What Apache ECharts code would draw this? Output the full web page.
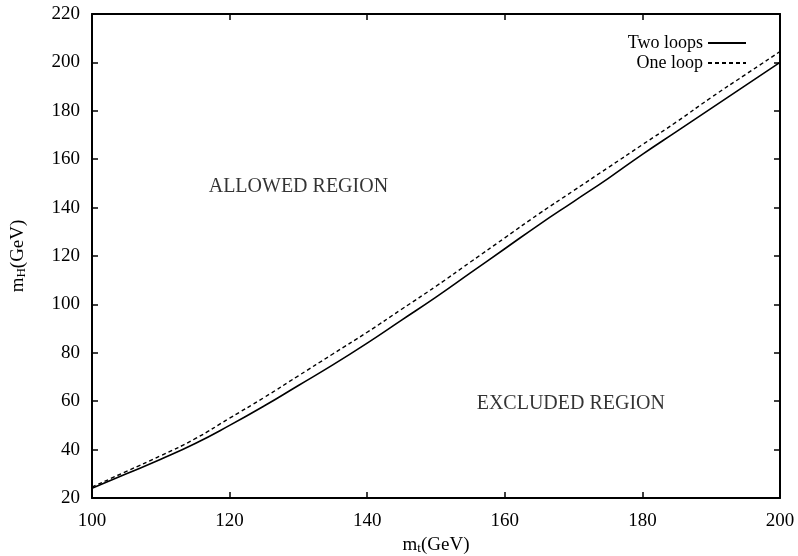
<!DOCTYPE html>
<html>
<head>
<meta charset="utf-8">
<script src="https://cdn.jsdelivr.net/npm/echarts@6/dist/echarts.min.js"></script>
<style>html,body{margin:0;padding:0;background:#fff;}#chart{width:798px;height:556px;}</style>
</head>
<body>
<div id="chart"></div>
<script>
const mt = [100,105,110,115,120,125,130,135,140,145,150,155,160,165,170,175,180,185,190,195,200];
const twoLoops = [24,30,36,42.5,50,58,66.5,75,84,93.5,103,113,123,133,142.5,152,162,171.5,181,190.5,200];
const oneLoop = [24.5,31,37.5,44.5,53,61.5,70.5,79.5,88.5,98,107.5,117.5,127.5,137.5,147,156.5,166,175.5,185.5,195,204.5];
const xTicks = [100,120,140,160,180,200];
const yTicks = [20,40,60,80,100,120,140,160,180,200,220];
const seriesNames = ['Two loops','One loop'];
const regionLabels = [
  {name:'ALLOWED REGION', value:[130,148.8]},
  {name:'EXCLUDED REGION', value:[169.6,59]}
];

const font = 'Liberation Serif';
const axisLine = {show:true, lineStyle:{color:'#000', width:2}};
const tick = {show:true, inside:true, length:6, lineStyle:{color:'#000', width:1.5}};

const chart = echarts.init(document.getElementById('chart'), null, {renderer:'canvas'});
chart.setOption({
  animation:false,
  backgroundColor:'#fff',
  color:['#000','#000'],
  grid:{left:92, right:18, top:14, bottom:58, containLabel:false, outerBoundsMode:'none'},
  legend:{
    orient:'vertical', right:46, top:29, align:'right', itemGap:2,
    itemWidth:38, itemHeight:16,
    itemStyle:{opacity:0},
    textStyle:{fontFamily:font, fontSize:18, color:'#000'},
    data:seriesNames
  },
  xAxis:[{
    type:'value', min:xTicks[0], max:xTicks[xTicks.length-1], interval:20,
    axisLine, axisTick:tick, splitLine:{show:false},
    axisLabel:{fontFamily:font, fontSize:19, color:'#000', margin:14},
    name:'{m|m}{s|t}{m|(GeV)}', nameLocation:'middle', nameGap:30,
    nameTextStyle:{rich:{m:{fontFamily:font,fontSize:19,color:'#000'}, s:{fontFamily:font,fontSize:13,color:'#000',verticalAlign:'bottom',padding:[7,0,0,0]}}}
  },{
    type:'value', position:'top', min:xTicks[0], max:xTicks[xTicks.length-1], interval:20,
    axisLine, axisTick:tick, axisLabel:{show:false}, splitLine:{show:false}
  }],
  yAxis:[{
    type:'value', min:yTicks[0], max:yTicks[yTicks.length-1], interval:20,
    axisLine, axisTick:tick, splitLine:{show:false},
    axisLabel:{fontFamily:font, fontSize:19, color:'#000', margin:12},
    name:'{m|m}{s|H}{m|(GeV)}', nameLocation:'middle', nameGap:64, nameRotate:90,
    nameTextStyle:{rich:{m:{fontFamily:font,fontSize:19,color:'#000'}, s:{fontFamily:font,fontSize:13,color:'#000',padding:[7,0,0,0]}}}
  },{
    type:'value', position:'right', min:yTicks[0], max:yTicks[yTicks.length-1], interval:20,
    axisLine, axisTick:tick, axisLabel:{show:false}, splitLine:{show:false}
  }],
  series:[
    {name:seriesNames[0], type:'line', smooth:true, symbol:'none',
     itemStyle:{color:'#000'},
     lineStyle:{color:'#000', width:1.6, type:'solid'},
     data:mt.map((x,i)=>[x,twoLoops[i]])},
    {name:seriesNames[1], type:'line', smooth:true, symbol:'none',
     itemStyle:{color:'#000'},
     lineStyle:{color:'#000', width:1.4, type:[4,3]},
     data:mt.map((x,i)=>[x,oneLoop[i]])},
    {type:'scatter', symbolSize:0, silent:true,
     label:{show:true, position:'inside', formatter:'{b}', fontFamily:font, fontSize:20, color:'#000'},
     data:regionLabels}
  ]
});
</script>
</body>
</html>
